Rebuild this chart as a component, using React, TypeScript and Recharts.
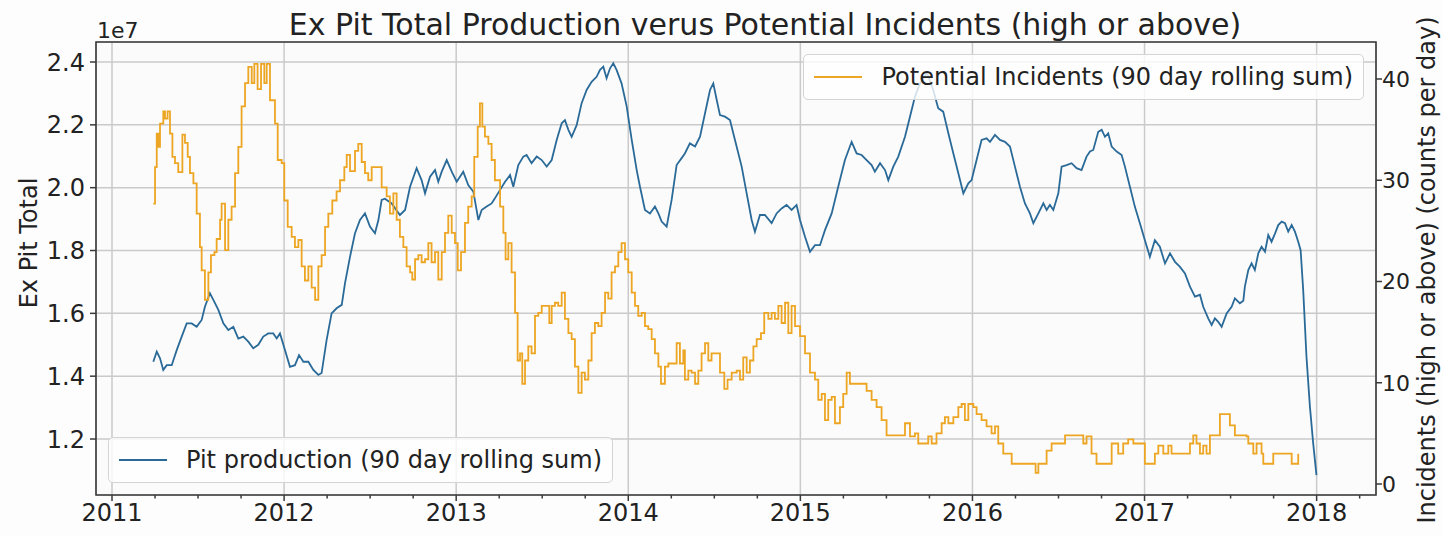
import React from 'react';
import {
  LineChart,
  Line,
  XAxis,
  YAxis,
  CartesianGrid,
  ReferenceArea,
} from 'recharts';

// Pit production, 90 day rolling sum, in units of 1e7 — [decimal year, value]
const production: [number, number][] = [
  [2011.240, 1.446], [2011.260, 1.478], [2011.279, 1.457], [2011.298, 1.420], [2011.318, 1.435],
  [2011.347, 1.435], [2011.376, 1.483], [2011.405, 1.526], [2011.434, 1.568], [2011.463, 1.568],
  [2011.492, 1.557], [2011.521, 1.579], [2011.540, 1.621], [2011.569, 1.664], [2011.589, 1.643],
  [2011.618, 1.611], [2011.647, 1.568], [2011.676, 1.547], [2011.705, 1.557], [2011.734, 1.520],
  [2011.763, 1.526], [2011.792, 1.510], [2011.821, 1.489], [2011.850, 1.500], [2011.879, 1.526],
  [2011.908, 1.536], [2011.937, 1.536], [2011.957, 1.520], [2011.976, 1.536], [2012.005, 1.483],
  [2012.034, 1.430], [2012.063, 1.435], [2012.087, 1.467], [2012.112, 1.446], [2012.141, 1.446],
  [2012.170, 1.420], [2012.199, 1.404], [2012.218, 1.410], [2012.247, 1.515], [2012.276, 1.600],
  [2012.305, 1.616], [2012.335, 1.627], [2012.354, 1.696], [2012.383, 1.780], [2012.412, 1.855],
  [2012.441, 1.897], [2012.470, 1.918], [2012.499, 1.876], [2012.528, 1.855], [2012.548, 1.897],
  [2012.567, 1.961], [2012.586, 1.965], [2012.625, 1.950], [2012.673, 1.913], [2012.703, 1.929],
  [2012.732, 2.003], [2012.770, 2.062], [2012.799, 2.024], [2012.819, 1.982], [2012.848, 2.035],
  [2012.877, 2.056], [2012.896, 2.019], [2012.916, 2.051], [2012.945, 2.088], [2012.974, 2.051],
  [2013.003, 2.019], [2013.022, 2.035], [2013.041, 2.051], [2013.070, 2.008], [2013.100, 1.987],
  [2013.129, 1.897], [2013.148, 1.929], [2013.177, 1.940], [2013.206, 1.950], [2013.225, 1.966],
  [2013.255, 1.993], [2013.284, 2.019], [2013.313, 2.040], [2013.332, 2.003], [2013.361, 2.072],
  [2013.390, 2.099], [2013.409, 2.104], [2013.438, 2.078], [2013.468, 2.099], [2013.497, 2.088],
  [2013.526, 2.067], [2013.555, 2.088], [2013.584, 2.152], [2013.613, 2.205], [2013.632, 2.215],
  [2013.652, 2.184], [2013.671, 2.162], [2013.700, 2.199], [2013.729, 2.269], [2013.758, 2.311],
  [2013.787, 2.337], [2013.816, 2.353], [2013.836, 2.375], [2013.855, 2.385], [2013.874, 2.348],
  [2013.894, 2.380], [2013.913, 2.396], [2013.932, 2.375], [2013.961, 2.332], [2013.991, 2.258],
  [2014.020, 2.152], [2014.049, 2.056], [2014.068, 2.003], [2014.097, 1.929], [2014.126, 1.918],
  [2014.155, 1.940], [2014.175, 1.918], [2014.194, 1.892], [2014.223, 1.876], [2014.252, 1.961],
  [2014.281, 2.072], [2014.310, 2.094], [2014.329, 2.109], [2014.358, 2.141], [2014.388, 2.131],
  [2014.417, 2.162], [2014.446, 2.237], [2014.475, 2.311], [2014.494, 2.332], [2014.514, 2.279],
  [2014.533, 2.231], [2014.562, 2.226], [2014.591, 2.215], [2014.620, 2.152], [2014.659, 2.067],
  [2014.688, 1.982], [2014.717, 1.897], [2014.736, 1.860], [2014.765, 1.913], [2014.794, 1.913],
  [2014.833, 1.887], [2014.862, 1.918], [2014.891, 1.934], [2014.920, 1.945], [2014.949, 1.929],
  [2014.978, 1.945], [2014.998, 1.897], [2015.027, 1.844], [2015.056, 1.796], [2015.085, 1.817],
  [2015.114, 1.817], [2015.143, 1.865], [2015.182, 1.918], [2015.220, 2.003], [2015.259, 2.088],
  [2015.298, 2.146], [2015.327, 2.109], [2015.356, 2.104], [2015.385, 2.088], [2015.414, 2.072],
  [2015.433, 2.051], [2015.463, 2.078], [2015.492, 2.056], [2015.511, 2.024], [2015.540, 2.067],
  [2015.569, 2.099], [2015.608, 2.162], [2015.637, 2.226], [2015.666, 2.290], [2015.695, 2.332],
  [2015.736, 2.365], [2015.772, 2.311], [2015.801, 2.253], [2015.830, 2.242], [2015.860, 2.173],
  [2015.889, 2.109], [2015.918, 2.046], [2015.947, 1.982], [2015.976, 2.014], [2015.995, 2.024],
  [2016.024, 2.088], [2016.053, 2.152], [2016.082, 2.157], [2016.102, 2.146], [2016.131, 2.168],
  [2016.160, 2.152], [2016.189, 2.146], [2016.218, 2.131], [2016.247, 2.067], [2016.276, 2.003],
  [2016.305, 1.950], [2016.334, 1.918], [2016.354, 1.887], [2016.383, 1.918], [2016.412, 1.950],
  [2016.431, 1.929], [2016.450, 1.945], [2016.470, 1.929], [2016.499, 1.982], [2016.518, 2.067],
  [2016.547, 2.072], [2016.576, 2.078], [2016.605, 2.062], [2016.634, 2.056], [2016.663, 2.099],
  [2016.683, 2.115], [2016.702, 2.120], [2016.731, 2.178], [2016.751, 2.184], [2016.770, 2.162],
  [2016.789, 2.173], [2016.809, 2.131], [2016.838, 2.115], [2016.867, 2.104], [2016.886, 2.067],
  [2016.915, 2.003], [2016.944, 1.939], [2016.973, 1.887], [2017.002, 1.833], [2017.031, 1.780],
  [2017.060, 1.833], [2017.089, 1.812], [2017.119, 1.759], [2017.148, 1.791], [2017.177, 1.764],
  [2017.206, 1.748], [2017.235, 1.727], [2017.264, 1.685], [2017.293, 1.653], [2017.322, 1.659],
  [2017.341, 1.621], [2017.370, 1.584], [2017.390, 1.563], [2017.409, 1.584], [2017.428, 1.573],
  [2017.448, 1.557], [2017.477, 1.600], [2017.506, 1.621], [2017.525, 1.648], [2017.554, 1.632],
  [2017.574, 1.640], [2017.583, 1.685], [2017.603, 1.738], [2017.622, 1.759], [2017.641, 1.738],
  [2017.661, 1.791], [2017.680, 1.812], [2017.700, 1.796], [2017.719, 1.849], [2017.738, 1.828],
  [2017.758, 1.854], [2017.777, 1.881], [2017.797, 1.892], [2017.816, 1.887], [2017.835, 1.860],
  [2017.855, 1.881], [2017.874, 1.860], [2017.893, 1.828], [2017.907, 1.801], [2017.922, 1.674],
  [2017.941, 1.462], [2017.961, 1.303], [2017.980, 1.186], [2017.999, 1.085],
];

// Potential incidents (high or above), 90 day rolling sum — [decimal year, count]
const incidents: [number, number][] = [
  [2011.240, 27.7], [2011.250, 31.3], [2011.260, 34.6], [2011.269, 33.3], [2011.279, 35.6],
  [2011.298, 36.8], [2011.308, 36.1], [2011.323, 36.8], [2011.337, 34.6], [2011.351, 32.3],
  [2011.366, 31.7], [2011.385, 30.8], [2011.409, 34.5], [2011.424, 33.7], [2011.440, 32.3],
  [2011.453, 30.7], [2011.473, 29.7], [2011.492, 26.7], [2011.511, 23.4], [2011.521, 21.1],
  [2011.540, 18.2], [2011.560, 20.9], [2011.575, 22.6], [2011.595, 22.9], [2011.608, 24.2],
  [2011.628, 26.1], [2011.637, 27.7], [2011.657, 23.1], [2011.676, 26.1], [2011.695, 27.4],
  [2011.715, 30.7], [2011.734, 33.3], [2011.753, 37.3], [2011.773, 39.6], [2011.792, 41.2],
  [2011.812, 39.6], [2011.827, 41.5], [2011.846, 39.0], [2011.866, 41.5], [2011.885, 39.6],
  [2011.899, 41.5], [2011.918, 37.9], [2011.947, 35.6], [2011.963, 32.0], [2011.986, 31.7],
  [2012.001, 28.0], [2012.021, 25.4], [2012.044, 24.4], [2012.063, 23.4], [2012.083, 24.1],
  [2012.102, 21.5], [2012.121, 20.1], [2012.141, 21.5], [2012.160, 19.4], [2012.180, 18.2],
  [2012.199, 21.5], [2012.218, 22.6], [2012.238, 25.4], [2012.257, 26.7], [2012.280, 28.0],
  [2012.305, 28.9], [2012.325, 30.0], [2012.350, 31.3], [2012.364, 32.5], [2012.383, 30.9],
  [2012.412, 32.9], [2012.431, 33.6], [2012.451, 31.8], [2012.470, 30.7], [2012.489, 30.0],
  [2012.509, 31.3], [2012.548, 31.3], [2012.567, 29.3], [2012.596, 28.4], [2012.615, 26.7],
  [2012.635, 28.7], [2012.654, 26.1], [2012.673, 24.4], [2012.693, 23.4], [2012.712, 21.5],
  [2012.732, 20.9], [2012.745, 20.2], [2012.761, 22.2], [2012.780, 22.6], [2012.799, 21.9],
  [2012.819, 22.2], [2012.838, 23.8], [2012.857, 21.9], [2012.877, 22.9], [2012.896, 20.2],
  [2012.916, 22.9], [2012.935, 24.8], [2012.954, 26.5], [2012.974, 24.8], [2012.993, 23.8],
  [2013.009, 21.1], [2013.028, 22.9], [2013.051, 25.8], [2013.070, 27.4], [2013.090, 28.4],
  [2013.105, 32.3], [2013.125, 35.3], [2013.138, 37.6], [2013.152, 35.3], [2013.167, 34.3],
  [2013.187, 33.6], [2013.206, 32.0], [2013.225, 30.0], [2013.255, 27.4], [2013.274, 24.8],
  [2013.287, 22.2], [2013.303, 23.8], [2013.322, 20.9], [2013.342, 16.9], [2013.357, 12.2],
  [2013.371, 12.9], [2013.384, 9.9], [2013.400, 12.2], [2013.419, 13.6], [2013.438, 12.9],
  [2013.458, 16.6], [2013.477, 16.9], [2013.497, 17.6], [2013.526, 17.6], [2013.541, 15.9],
  [2013.555, 17.6], [2013.574, 17.9], [2013.593, 17.6], [2013.613, 18.9], [2013.632, 16.3],
  [2013.652, 14.9], [2013.671, 14.3], [2013.690, 11.6], [2013.710, 9.0], [2013.729, 11.0],
  [2013.748, 10.3], [2013.768, 12.2], [2013.787, 14.9], [2013.806, 15.9], [2013.826, 15.6],
  [2013.845, 16.9], [2013.865, 18.9], [2013.884, 18.3], [2013.903, 20.9], [2013.923, 21.5],
  [2013.942, 22.9], [2013.961, 23.8], [2013.981, 22.2], [2014.000, 20.9], [2014.020, 18.9],
  [2014.039, 17.6], [2014.058, 16.6], [2014.078, 16.9], [2014.097, 15.6], [2014.116, 15.3],
  [2014.136, 14.3], [2014.155, 12.9], [2014.175, 11.6], [2014.190, 9.9], [2014.213, 11.6],
  [2014.233, 11.9], [2014.262, 11.9], [2014.281, 13.9], [2014.300, 11.9], [2014.320, 13.2],
  [2014.329, 10.3], [2014.349, 11.2], [2014.368, 11.0], [2014.388, 9.9], [2014.407, 11.2],
  [2014.426, 12.9], [2014.446, 13.9], [2014.465, 12.2], [2014.484, 12.9], [2014.514, 12.9],
  [2014.533, 11.0], [2014.558, 9.4], [2014.577, 10.3], [2014.601, 11.0], [2014.630, 11.2],
  [2014.649, 10.3], [2014.668, 12.5], [2014.688, 11.0], [2014.707, 12.2], [2014.727, 13.6],
  [2014.746, 14.3], [2014.771, 14.9], [2014.790, 16.9], [2014.814, 16.3], [2014.833, 16.9],
  [2014.852, 16.3], [2014.872, 17.6], [2014.891, 15.9], [2014.911, 17.9], [2014.930, 14.9],
  [2014.949, 17.6], [2014.969, 15.6], [2014.998, 14.6], [2015.027, 12.9], [2015.056, 11.0],
  [2015.085, 10.3], [2015.104, 8.3], [2015.124, 8.9], [2015.143, 6.3], [2015.162, 8.3],
  [2015.182, 8.6], [2015.201, 6.0], [2015.230, 7.6], [2015.249, 8.9], [2015.269, 11.0],
  [2015.288, 9.9], [2015.356, 9.9], [2015.385, 9.2], [2015.414, 8.3], [2015.443, 7.6],
  [2015.472, 6.3], [2015.501, 4.8], [2015.588, 4.8], [2015.608, 6.0], [2015.637, 4.7],
  [2015.666, 5.0], [2015.685, 4.0], [2015.714, 4.0], [2015.743, 4.7], [2015.763, 4.0],
  [2015.791, 5.0], [2015.821, 6.0], [2015.840, 6.6], [2015.860, 6.0], [2015.889, 6.6],
  [2015.918, 7.6], [2015.937, 7.9], [2015.956, 6.3], [2015.976, 7.9], [2016.005, 7.6],
  [2016.024, 6.9], [2016.053, 6.3], [2016.082, 5.7], [2016.111, 5.0], [2016.131, 5.7],
  [2016.150, 4.0], [2016.179, 3.0], [2016.228, 2.0], [2016.354, 2.0], [2016.367, 1.1],
  [2016.383, 2.0], [2016.431, 3.3], [2016.460, 4.0], [2016.538, 4.8], [2016.644, 4.0],
  [2016.663, 4.7], [2016.692, 3.0], [2016.721, 2.0], [2016.809, 4.0], [2016.847, 3.0],
  [2016.876, 4.0], [2016.905, 4.4], [2016.935, 4.0], [2017.002, 2.0], [2017.060, 3.0],
  [2017.080, 3.8], [2017.109, 3.0], [2017.138, 3.8], [2017.157, 3.0], [2017.264, 4.0],
  [2017.283, 4.8], [2017.302, 4.0], [2017.322, 3.0], [2017.341, 3.8], [2017.360, 3.0],
  [2017.380, 4.8], [2017.438, 6.9], [2017.496, 5.8], [2017.525, 4.8], [2017.593, 4.7],
  [2017.603, 4.0], [2017.632, 3.0], [2017.651, 4.0], [2017.680, 3.0], [2017.690, 2.0],
  [2017.748, 3.0], [2017.855, 2.0], [2017.893, 3.0],
];

const yearTicks = [2011, 2012, 2013, 2014, 2015, 2016, 2017, 2018];
const productionTicks = [1.2, 1.4, 1.6, 1.8, 2.0, 2.2, 2.4];
const incidentTicks = [0, 10, 20, 30, 40];

const X_DOMAIN: [number, number] = [2010.907, 2018.345];
const PROD_DOMAIN: [number, number] = [1.0218, 2.4637];
const INC_DOMAIN: [number, number] = [-1.086, 43.654];

const PROD_NAME = 'Pit production (90 day rolling sum)';
const INC_NAME = 'Potential Incidents (90 day rolling sum)';
const PROD_COLOR = '#2a6a98';
const INC_COLOR = '#eda623';

const FONT = '"DejaVu Sans", sans-serif';
const TEXT = '#222';
const SPINE = '#3a3a3a';
const GRID = '#cacaca';

const W = 1443;
const H = 536;
const TICK_SIZE = 6;
const TICK_GAP = 3;

// quarterly minor ticks along the date axis, labels only on whole years
const quarterTicks = yearTicks
  .flatMap((y) => [y, y + 0.25, y + 0.5, y + 0.75])
  .filter((t) => t <= X_DOMAIN[1]);

const productionData = production.map(([t, v]) => ({ t, v }));
const incidentData = incidents.map(([t, v]) => ({ t, v }));

const DateTick = (props: any) => {
  const { x, y, payload } = props;
  const major = Number.isInteger(payload.value);
  const top = y - TICK_SIZE - TICK_GAP;
  return (
    <g>
      <line x1={x} x2={x} y1={top} y2={top + (major ? 6 : 3.5)} stroke={SPINE} strokeWidth={1.5} />
      {major && (
        <text x={x} y={y} dy="0.71em" textAnchor="middle" fill={TEXT} fontSize={24} fontFamily={FONT}>
          {payload.value}
        </text>
      )}
    </g>
  );
};

const LegendEntry = ({ color, label }: { color: string; label: string }) => (
  <>
    <span style={{ display: 'inline-block', width: 48, height: 2, background: color, marginRight: 19 }} />
    <span>{label}</span>
  </>
);

const legendBox: React.CSSProperties = {
  position: 'absolute',
  display: 'flex',
  alignItems: 'center',
  height: 46,
  padding: '0 10px',
  boxSizing: 'border-box',
  background: 'rgba(255,255,255,0.8)',
  border: '1.5px solid #d4d4d4',
  borderRadius: 5,
  fontFamily: FONT,
  fontSize: 24,
  color: TEXT,
  whiteSpace: 'nowrap',
};

export default function App() {
  return (
    <div style={{ position: 'absolute', left: 0, top: 0, width: W, height: H, background: '#fdfdfd', overflow: 'hidden' }}>
      <LineChart width={W} height={H} margin={{ top: 42, left: 36, right: 22, bottom: 6 }}>
        <CartesianGrid yAxisId="left" vertical={false} stroke={GRID} strokeWidth={1.5} fill="#fbfbfb" />
        <CartesianGrid xAxisId="years" yAxisId="left" horizontal={false} stroke={GRID} strokeWidth={1.5} />
        <XAxis
          dataKey="t"
          type="number"
          domain={X_DOMAIN}
          allowDataOverflow
          ticks={quarterTicks}
          interval={0}
          tickLine={false}
          axisLine={false}
          tickSize={TICK_SIZE}
          tickMargin={TICK_GAP}
          tick={<DateTick />}
          height={35}
        />
        <XAxis xAxisId="years" dataKey="t" type="number" domain={X_DOMAIN} allowDataOverflow ticks={yearTicks} hide />
        <YAxis
          yAxisId="left"
          type="number"
          domain={PROD_DOMAIN}
          allowDataOverflow
          ticks={productionTicks}
          interval={0}
          width={60}
          axisLine={false}
          tickSize={6}
          tickMargin={5}
          tickLine={{ stroke: SPINE, strokeWidth: 1.5 }}
          tick={{ fill: TEXT, fontSize: 24, fontFamily: FONT }}
          tickFormatter={(v: number) => v.toFixed(1)}
        />
        <YAxis
          yAxisId="right"
          orientation="right"
          type="number"
          domain={INC_DOMAIN}
          allowDataOverflow
          ticks={incidentTicks}
          interval={0}
          width={45}
          axisLine={false}
          tickSize={6}
          tickMargin={0}
          tickLine={{ stroke: SPINE, strokeWidth: 1.5 }}
          tick={{ fill: TEXT, fontSize: 22, fontFamily: FONT }}
        />
        <Line
          data={productionData}
          dataKey="v"
          name={PROD_NAME}
          yAxisId="left"
          type="linear"
          stroke={PROD_COLOR}
          strokeWidth={1.8}
          dot={false}
          isAnimationActive={false}
        />
        <Line
          data={incidentData}
          dataKey="v"
          name={INC_NAME}
          yAxisId="right"
          type="stepAfter"
          stroke={INC_COLOR}
          strokeWidth={1.8}
          dot={false}
          isAnimationActive={false}
        />
        <ReferenceArea
          yAxisId="left"
          x1={X_DOMAIN[0]}
          x2={X_DOMAIN[1]}
          y1={PROD_DOMAIN[0]}
          y2={PROD_DOMAIN[1]}
          fill="none"
          stroke={SPINE}
          strokeWidth={1.6}
          ifOverflow="visible"
        />
      </LineChart>

      <svg width={W} height={H} style={{ position: 'absolute', left: 0, top: 0, pointerEvents: 'none' }}>
        <text x={765} y={35} textAnchor="middle" fontSize={30} fontFamily={FONT} fill={TEXT}>
          Ex Pit Total Production verus Potential Incidents (high or above)
        </text>
        <text x={97} y={38} fontSize={22} fontFamily={FONT} fill={TEXT}>1e7</text>
        <text transform="translate(37,243) rotate(-90)" textAnchor="middle" fontSize={24} fontFamily={FONT} fill={TEXT}>
          Ex Pit Total
        </text>
        <text transform="translate(1435,270) rotate(-90)" textAnchor="middle" fontSize={24} fontFamily={FONT} fill={TEXT}>
          Incidents (high or above) (counts per day)
        </text>
      </svg>

      <div style={{ ...legendBox, right: W - 1364, top: 54 }}>
        <LegendEntry color={INC_COLOR} label={INC_NAME} />
      </div>
      <div style={{ ...legendBox, left: 108, top: 437 }}>
        <LegendEntry color={PROD_COLOR} label={PROD_NAME} />
      </div>
    </div>
  );
}
